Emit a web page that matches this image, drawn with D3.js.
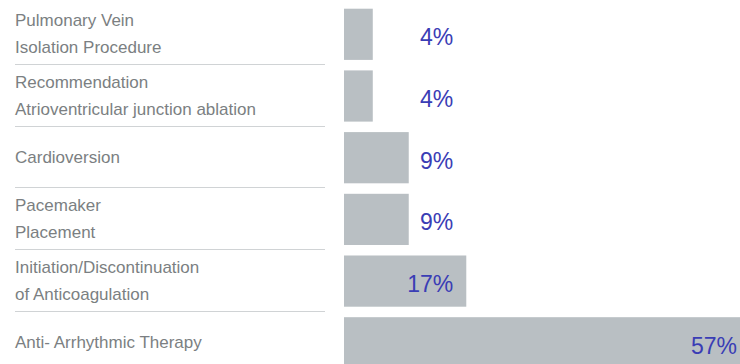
<!DOCTYPE html>
<html lang="en">
<head>
    <meta charset="UTF-8">
    <script src="https://d3js.org/d3.v7.min.js"></script>
    <title>Procedures</title>
    <style>
        body { margin: 0; background: #fff; }
    </style>
</head>
<body>
    <svg id="chart" width="740" height="364"></svg>
    <script>
        // label lines per category (\n splits the lines)
        const categories = [
            "Pulmonary Vein\nIsolation Procedure",
            "Recommendation\nAtrioventricular junction ablation",
            "Cardioversion",
            "Pacemaker\nPlacement",
            "Initiation/Discontinuation\nof Anticoagulation",
            "Anti- Arrhythmic Therapy"
        ];
        const values = [4, 4, 9, 9, 17, 57];
        const valueLabels = ["4%", "4%", "9%", "9%", "17%", "57%"];

        const svg = d3.select("#chart");
        const W = +svg.attr("width");

        const data = categories.map((c, i) => ({ cat: c, value: values[i], label: valueLabels[i] }));

        const y = d3.scaleBand()
            .domain(categories)
            .range([8.7, 368.4])
            .paddingInner(0.17)
            .paddingOuter(0);

        const x = d3.scaleLinear()
            .domain([0, 57])
            .range([344, 754]);

        // separator lines under labels
        svg.append("g")
            .selectAll("line")
            .data(categories.slice(0, -1))
            .enter().append("line")
            .attr("x1", 15)
            .attr("x2", 325)
            .attr("y1", d => Math.round(y(d) + y.bandwidth() + 4) + 0.5)
            .attr("y2", d => Math.round(y(d) + y.bandwidth() + 4) + 0.5)
            .attr("stroke", "#d0d3d5")
            .attr("stroke-width", 1);

        // bars
        svg.append("g")
            .selectAll("rect")
            .data(data)
            .enter().append("rect")
            .attr("x", x(0))
            .attr("y", d => y(d.cat))
            .attr("width", d => x(d.value) - x(0))
            .attr("height", y.bandwidth())
            .attr("fill", "#b9bfc3");

        // category labels
        const lineH = 27;
        const labels = svg.append("g")
            .selectAll("text")
            .data(data)
            .enter().append("text")
            .attr("font-family", "'Liberation Sans', Arial, sans-serif")
            .attr("font-size", 17)
            .attr("fill", "#7b7f82")
            .attr("x", 15)
            .attr("y", d => {
                const n = d.cat.split("\n").length;
                return y(d.cat) + y.bandwidth() / 2 - (n - 1) * lineH / 2 + 5;
            });

        labels.selectAll("tspan")
            .data(d => d.cat.split("\n"))
            .enter().append("tspan")
            .attr("x", 15)
            .attr("dy", (d, i) => i === 0 ? 0 : lineH)
            .text(d => d);

        // value labels, right aligned, never left of x(17)
        const minEnd = x(17) - 13;
        svg.append("g")
            .selectAll("text")
            .data(data)
            .enter().append("text")
            .attr("font-family", "'Liberation Sans', Arial, sans-serif")
            .attr("font-size", 23)
            .attr("fill", "#3a3db5")
            .attr("text-anchor", "end")
            .attr("x", d => Math.min(Math.max(x(d.value) - 13, minEnd), W - 3))
            .attr("y", d => y(d.cat) + y.bandwidth() / 2 + 11)
            .text(d => d.label);
    </script>
</body>
</html>
